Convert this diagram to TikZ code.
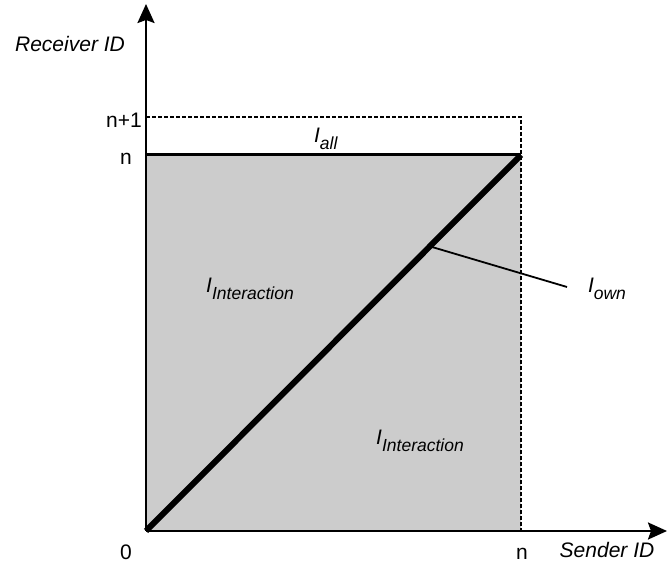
\documentclass[tikz,border=0pt]{standalone}
\usepackage{fontspec}
\setmainfont{Liberation Sans}
\usetikzlibrary{arrows.meta}
\definecolor{CellGray}{HTML}{CCCCCC}
\newcommand{\setidx}[1]{\textit{I}\raisebox{-7pt}{\fontsize{17.5}{20}\selectfont\textit{#1}}}

\begin{document}
\begin{tikzpicture}[
        x=1pt, y=1pt,
        every node/.style={inner sep=0pt, font=\fontsize{21}{24}\selectfont},
        axis/.style={line width=2.4pt, -{Stealth[length=19pt, width=17pt, inset=3pt]}},
        bound/.style={line width=1.8pt, dash pattern=on 4pt off 2pt},
        border/.style={line width=3pt},
        selfline/.style={line width=6pt},
        pointer/.style={line width=1.8pt}]
    \useasboundingbox (0,0) rectangle (667,567);
    \coordinate (O) at (146,36);
    \coordinate (N) at (521,412);
    \coordinate (Ny) at (146,412);
    \coordinate (Nx) at (521,36);
    \coordinate (Mx) at (521,450);
    \coordinate (My) at (146,450);
    \coordinate (ownend) at (567,280);
    % interaction area
    \fill[CellGray] (O) rectangle (N);
    \draw[bound] (My) -- (Mx) -- (Nx);
    \draw[border] (Ny) -- (N);
    \draw[selfline] (O) -- coordinate[pos=0.757] (diag) (N);
    \draw[pointer] (diag) -- (ownend);
    % axes
    \draw[axis] (O) -- (146,563);
    \draw[axis] (O) -- (667,36);
    % labels
    \node[anchor=base, font=\fontsize{21}{24}\selectfont\itshape] (recv) at (70,515) {Receiver ID};
    \node[anchor=base, font=\fontsize{21}{24}\selectfont\itshape] (send) at (607,9) {Sender ID};
    \node[anchor=base east] (nplus) at (142,439) {n+1};
    \node[anchor=base] (ny) at (126,402) {n};
    \node[anchor=base] (zero) at (126,7) {0};
    \node[anchor=base] (nx) at (522,7) {n};
    \node[anchor=base] (all) at (326,424) {\setidx{all}};
    \node[anchor=base] (inter1) at (250,274) {\setidx{Interaction}};
    \node[anchor=base] (inter2) at (420,122) {\setidx{Interaction}};
    \node[anchor=base] (own) at (607,274) {\setidx{own}};
\end{tikzpicture}
\end{document}
